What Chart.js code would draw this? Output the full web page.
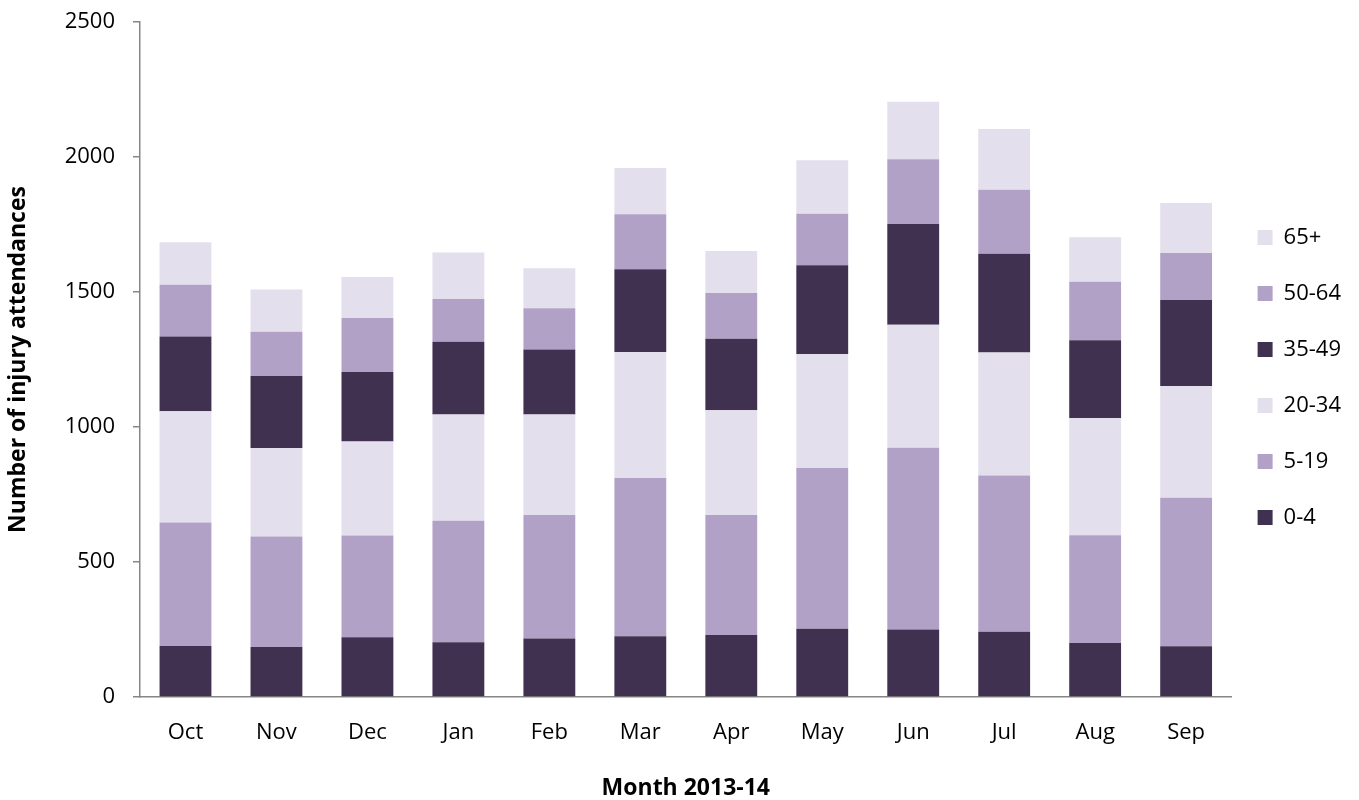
<!DOCTYPE html>
<html>
<head>
<meta charset="utf-8">
<script src="https://cdn.jsdelivr.net/npm/chart.js@4/dist/chart.umd.min.js"></script>
<style>
  html, body { margin: 0; padding: 0; background: #ffffff; }
  #wrap { width: 1359px; height: 800px; position: relative; }
</style>
</head>
<body>
<div id="wrap"><canvas id="c" width="1359" height="800"></canvas></div>
<script>
const months = ["Oct", "Nov", "Dec", "Jan", "Feb", "Mar", "Apr", "May", "Jun", "Jul", "Aug", "Sep"];
const seriesNames = ["0-4", "5-19", "20-34", "35-49", "50-64", "65+"];
const age0to4   = [189, 185, 221, 203, 217, 225, 230, 253, 250, 242, 200, 188];
const age5to19  = [457, 409, 377, 450, 457, 586, 444, 595, 673, 578, 399, 550];
const age20to34 = [412, 328, 348, 393, 372, 467, 388, 422, 456, 456, 434, 414];
const age35to49 = [277, 267, 258, 270, 241, 306, 265, 329, 373, 366, 288, 318];
const age50to64 = [192, 164, 200, 158, 153, 204, 169, 191, 240, 237, 217, 174];
const age65plus = [157, 156, 152, 172, 148, 171, 156, 198, 213, 225, 165, 186];
const yTicks = [0, 500, 1000, 1500, 2000, 2500];
const xTitle = "Month 2013-14";
const yTitle = "Number of injury attendances";

const DARK = "#403151", MID = "#B2A1C7", LIGHT = "#E4DFEC";
const colors = [DARK, MID, LIGHT, DARK, MID, LIGHT];
const values = [age0to4, age5to19, age20to34, age35to49, age50to64, age65plus];
const FONT = "'Open Sans', 'Liberation Sans', sans-serif";
const AXIS = "#868686";

const legendShift = {
  id: "legendShift",
  afterLayout(chart) {
    const lg = chart.legend;
    if (!lg) return;
    lg.left -= 8; lg.right -= 8;
    lg.top += 18; lg.bottom += 18;
  }
};

new Chart(document.getElementById("c"), {
  type: "bar",
  data: {
    labels: months,
    datasets: seriesNames.map((n, i) => ({
      label: n,
      data: values[i],
      backgroundColor: colors[i],
      borderWidth: 0,
      categoryPercentage: 1.0,
      barPercentage: 0.57
    }))
  },
  options: {
    responsive: false,
    animation: false,
    layout: { padding: { left: 0, right: 0, top: 22, bottom: 0 } },
    plugins: {
      tooltip: { enabled: false },
      legend: {
        position: "right",
        fullSize: false,
        reverse: true,
        labels: {
          font: { family: FONT, size: 22 },
          color: "#000000",
          boxWidth: 15,
          boxHeight: 15,
          padding: 34
        }
      }
    },
    scales: {
      x: {
        stacked: true,
        grid: { display: false },
        border: { display: true, color: AXIS, width: 1.5 },
        ticks: { font: { family: FONT, size: 22 }, color: "#000000", padding: 15, maxRotation: 0 },
        title: { display: true, text: xTitle, font: { family: FONT, size: 23, weight: "bold" }, color: "#000000", padding: { top: 0, bottom: -2 } },
        afterFit(scale) { scale.height = 103; }
      },
      y: {
        stacked: true,
        min: 0,
        max: 2500,
        afterBuildTicks(scale) { scale.ticks = yTicks.map(v => ({ value: v })); },
        grid: { display: true, drawOnChartArea: false, drawTicks: true, tickLength: 7, color: AXIS, lineWidth: 1.5 },
        border: { display: true, color: AXIS, width: 1.5 },
        ticks: { font: { family: FONT, size: 22 }, color: "#000000", padding: 18, callback: (v) => String(v) },
        title: { display: true, text: yTitle, font: { family: FONT, size: 23, weight: "bold" }, color: "#000000", padding: { top: 5, bottom: 0 } },
        afterFit(scale) { scale.width = 140; scale.paddingTop = 0; scale.paddingBottom = 0; }
      }
    }
  },
  plugins: [legendShift]
});
</script>
</body>
</html>
